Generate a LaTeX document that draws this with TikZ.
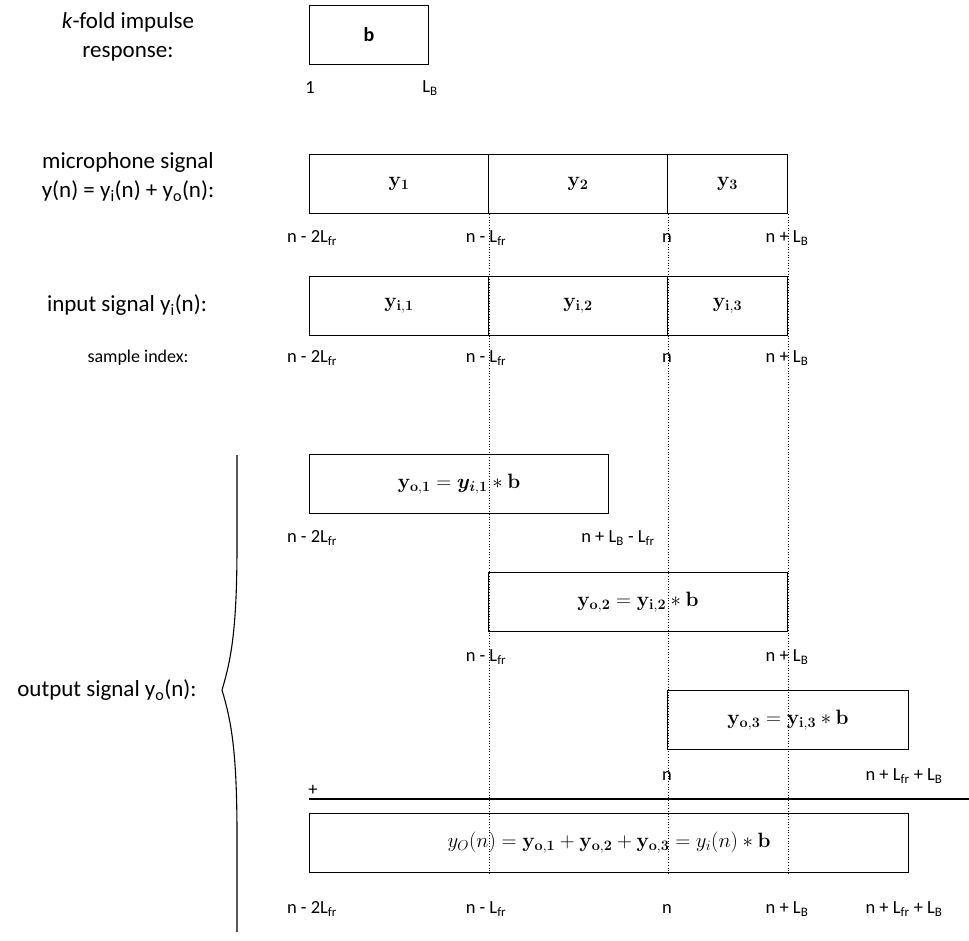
\documentclass[tikz,border=0pt]{standalone}
\usepackage[no-math]{fontspec}
\setmainfont{Carlito}
\usepackage{bm}
\begin{document}
\begin{tikzpicture}[x=1pt,y=-1pt,
  seg/.style={draw, line width=1.1pt, minimum height=59pt, inner sep=0pt, anchor=north west,
              font=\fontsize{21}{24}\selectfont},
  idx/.style={font=\fontsize{18.5}{21}\selectfont, inner sep=0pt},
  lbl/.style={font=\fontsize{23}{29}\selectfont, align=center, inner sep=0pt},
  guide/.style={dotted, line width=0.7pt}]
\useasboundingbox (0,0) rectangle (969,940);

% impulse response
\node[lbl] (klbl) at (128,37) {\textit{k}-fold impulse\\response:};
\node[seg, minimum width=119pt, font=\bfseries\fontsize{20}{24}\selectfont] (b) at (309,5) {b};
\node[idx] (b1) at (310,88) {1};
\node[idx] (bL) at (430,88) {L\textsubscript{B}};

% microphone signal
\node[lbl] (mlbl) at (128,177) {microphone signal\\y(n) = y\textsubscript{i}(n) + y\textsubscript{o}(n):};
\node[seg, minimum width=179pt] (y1) at (309,154) {$\mathbf{y_1}$};
\node[seg, minimum width=179pt] (y2) at (488,154) {$\mathbf{y_2}$};
\node[seg, minimum width=120pt] (y3) at (667,154) {$\mathbf{y_3}$};
\node[idx] (m0) at (312,238) {n - 2L\textsubscript{fr}};
\node[idx] (m1) at (486,238) {n - L\textsubscript{fr}};
\node[idx] (m2) at (667,238) {n};
\node[idx] (m3) at (787,238) {n + L\textsubscript{B}};

% input signal
\node[lbl] (ilbl) at (127,305) {input signal y\textsubscript{i}(n):};
\node[seg, minimum width=179pt] (yi1) at (309,276) {$\mathbf{y_{i,1}}$};
\node[seg, minimum width=179pt] (yi2) at (488,276) {$\mathbf{y_{i,2}}$};
\node[seg, minimum width=120pt] (yi3) at (667,276) {$\mathbf{y_{i,3}}$};
\node[idx, font=\fontsize{18}{21}\selectfont] (slbl) at (138,358) {sample index:};
\node[idx] (i0) at (312,358) {n - 2L\textsubscript{fr}};
\node[idx] (i1) at (486,358) {n - L\textsubscript{fr}};
\node[idx] (i2) at (667,358) {n};
\node[idx] (i3) at (787,358) {n + L\textsubscript{B}};

% output signal parts
\node[seg, minimum width=299pt] (yo1) at (309,454) {$\mathbf{y_{o,1}} = \bm{y}_{\bm{i},\mathbf{1}} * \mathbf{b}$};
\node[idx] (o10) at (312,538) {n - 2L\textsubscript{fr}};
\node[idx] (o11) at (618,538) {n + L\textsubscript{B} - L\textsubscript{fr}};

\node[seg, minimum width=299pt] (yo2) at (488,572) {$\mathbf{y_{o,2}} = \mathbf{y_{i,2}} * \mathbf{b}$};
\node[idx] (o20) at (486,657) {n - L\textsubscript{fr}};
\node[idx] (o21) at (787,657) {n + L\textsubscript{B}};

\node[seg, minimum width=241pt] (yo3) at (667,690) {$\mathbf{y_{o,3}} = \mathbf{y_{i,3}} * \mathbf{b}$};
\node[idx] (o30) at (667,776) {n};
\node[idx] (o31) at (904,776) {n + L\textsubscript{fr} + L\textsubscript{B}};

% sum
\node[idx] (plus) at (313,790) {+};
\coordinate (sumL) at (309,799);
\coordinate (sumR) at (969,799);
\draw[line width=1.1pt] (sumL) -- (sumR);

\node[seg, minimum width=599pt] (bot) at (309,813)
  {$y_O(n) = \mathbf{y_{o,1}} + \mathbf{y_{o,2}} + \mathbf{y_{o,3}} = y_i(n) * \mathbf{b}$};
\node[idx] (s0) at (312,909) {n - 2L\textsubscript{fr}};
\node[idx] (s1) at (486,909) {n - L\textsubscript{fr}};
\node[idx] (s2) at (667,909) {n};
\node[idx] (s3) at (787,909) {n + L\textsubscript{B}};
\node[idx] (s4) at (904,909) {n + L\textsubscript{fr} + L\textsubscript{B}};

% output brace and label
\node[lbl] (olbl) at (107,690) {output signal y\textsubscript{o}(n):};
\draw[line width=1.1pt] (237,455) -- (237,545)
  .. controls (237,630) and (231,660) .. (222,690)
  .. controls (231,720) and (237,750) .. (237,835) -- (237,932);

% sample index guides
\draw[guide] (y1.south east) -- (y1.south east |- bot.south);
\draw[guide] (y2.south east) -- (y2.south east |- bot.south);
\draw[guide] (y3.south east) -- (y3.south east |- bot.south);
\end{tikzpicture}
\end{document}
